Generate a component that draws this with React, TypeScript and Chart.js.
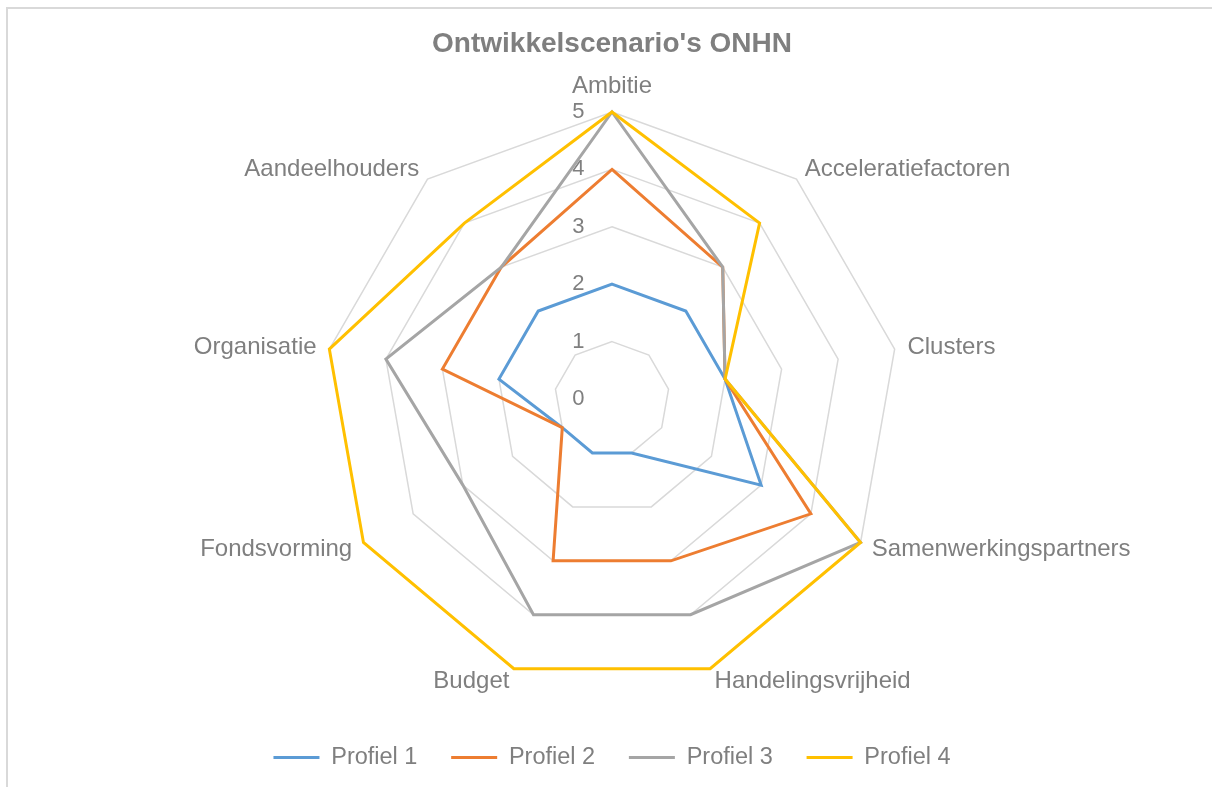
import React, { useEffect, useRef } from 'react';
import { Chart, registerables } from 'chart.js';

Chart.register(...registerables);

const TITLE = "Ontwikkelscenario's ONHN";
const CATEGORIES = [
  'Ambitie',
  'Acceleratiefactoren',
  'Clusters',
  'Samenwerkingspartners',
  'Handelingsvrijheid',
  'Budget',
  'Fondsvorming',
  'Organisatie',
  'Aandeelhouders',
];
const SERIES_NAMES = ['Profiel 1', 'Profiel 2', 'Profiel 3', 'Profiel 4'];
const PROFIEL_1 = [2, 2, 2, 3, 1, 1, 1, 2, 2];
const PROFIEL_2 = [4, 3, 2, 4, 3, 3, 1, 3, 3];
const PROFIEL_3 = [5, 3, 2, 5, 4, 4, 3, 4, 3];
const PROFIEL_4 = [5, 4, 2, 5, 5, 5, 5, 5, 4];
const TICK_VALUES = [0, 1, 2, 3, 4, 5];
const TICK_LABELS = ['0', '1', '2', '3', '4', '5'];
const COLORS = ['#5b9bd5', '#ed7d31', '#a5a5a5', '#ffc000'];

const SERIES = [PROFIEL_1, PROFIEL_2, PROFIEL_3, PROFIEL_4];
const FONT = "'Liberation Sans', Arial, sans-serif";
const TEXT = '#7f7f7f';
const TICK_PAD = ' '.repeat(11);

export default function App() {
  const ref = useRef<HTMLCanvasElement>(null);

  useEffect(() => {
    if (!ref.current) return;
    const chart = new Chart(ref.current, {
      type: 'radar',
      data: {
        labels: CATEGORIES,
        datasets: SERIES.map((values, i) => ({
          label: SERIES_NAMES[i],
          data: values,
          borderColor: COLORS[i],
          backgroundColor: COLORS[i],
          borderWidth: 3,
          pointRadius: 0,
          pointHoverRadius: 0,
          fill: false,
          order: SERIES.length - i,
        })),
      },
      options: {
        responsive: false,
        animation: false,
        events: [],
        layout: { padding: { left: 12, right: 0, top: 0, bottom: 7.75 } },
        plugins: {
          title: {
            display: true,
            text: TITLE,
            color: TEXT,
            font: { family: FONT, size: 28, weight: 'bold', lineHeight: 1.2 },
            padding: { top: 27.7, bottom: 24.7 },
          },
          legend: {
            position: 'bottom',
            labels: {
              usePointStyle: true,
              pointStyle: 'line',
              pointStyleWidth: 46,
              padding: 33.75,
              color: TEXT,
              font: { family: FONT, size: 23.5 },
              sort: (a: any, b: any) => a.datasetIndex - b.datasetIndex,
            },
          },
          tooltip: { enabled: false },
        },
        scales: {
          r: {
            min: 0,
            max: 5,
            angleLines: { display: false },
            grid: {
              lineWidth: 1.5,
              color: (ctx: any) => (ctx.tick && ctx.tick.value === 0 ? 'rgba(0,0,0,0)' : '#d9d9d9'),
            },
            ticks: {
              stepSize: 1,
              color: TEXT,
              font: { family: FONT, size: 22 },
              backdropPadding: 14,
              showLabelBackdrop: false,
              callback: (value: any, index: number) =>
                index === 0 ? '' : TICK_LABELS[TICK_VALUES.indexOf(value)] + TICK_PAD,
            },
            afterBuildTicks: (scale: any) => {
              scale.ticks = [{ value: TICK_VALUES[0] }, ...TICK_VALUES.map((v) => ({ value: v }))];
            },
            pointLabels: {
              color: TEXT,
              font: { family: FONT, size: 24, lineHeight: 0 },
              padding: (ctx: any) => (ctx.index === 0 ? 1 : -12),
            },
          },
        },
      } as any,
    });
    return () => chart.destroy();
  }, []);

  return (
    <div
      style={{
        position: 'fixed',
        left: 0,
        top: 0,
        width: 1212,
        height: 787,
        overflow: 'hidden',
        background: '#ffffff',
      }}
    >
      <div
        style={{
          position: 'absolute',
          left: 6,
          top: 7,
          width: 1300,
          height: 900,
          border: '2px solid #d9d9d9',
          boxSizing: 'border-box',
        }}
      />
      <canvas
        ref={ref}
        width={1212}
        height={787}
        style={{ position: 'absolute', left: 0, top: 0 }}
      />
    </div>
  );
}
